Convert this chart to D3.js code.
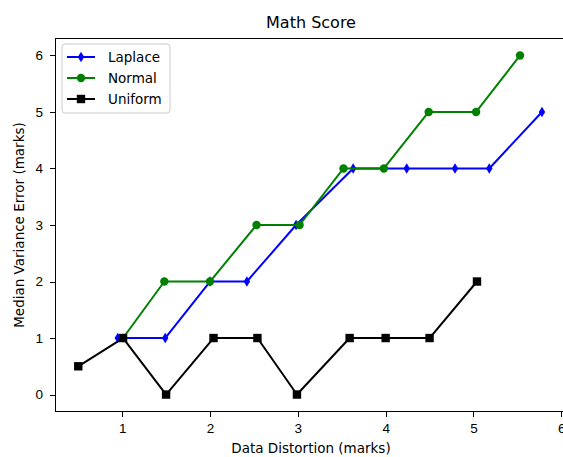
<!DOCTYPE html>
<html>
<meta charset="utf-8">
<style>
body { margin: 0; background: #fff; }
svg { font-family: "DejaVu Sans", sans-serif; }
.axis path, .axis line { stroke: #000; stroke-width: 1; shape-rendering: crispEdges; }
.axis text { font-size: 13.5px; fill: #000; }
.line { fill: none; stroke-width: 2; stroke-linejoin: round; }
</style>
<body>
<script src="https://d3js.org/d3.v7.min.js"></script>
<script>
// values
var laplaceX = [0.95, 1.49, 2.0, 2.42, 2.98, 3.63, 4.24, 4.79, 5.18, 5.78];
var laplaceY = [1, 1, 2, 2, 3, 4, 4, 4, 4, 5];
var normalX = [1.01, 1.48, 2.0, 2.53, 3.02, 3.52, 3.98, 4.49, 5.03, 5.53];
var normalY = [1, 2, 2, 3, 3, 4, 4, 5, 5, 6];
var uniformX = [0.5, 1.01, 1.5, 2.04, 2.54, 2.99, 3.59, 4.0, 4.5, 5.04];
var uniformY = [0.5, 1, 0, 1, 1, 0, 1, 1, 1, 2];
var xTicks = [1, 2, 3, 4, 5, 6];
var yTicks = [0, 1, 2, 3, 4, 5, 6];

var series = [
	{name: "Laplace", color: "blue", marker: "diamond", xs: laplaceX, ys: laplaceY},
	{name: "Normal", color: "green", marker: "circle", xs: normalX, ys: normalY},
	{name: "Uniform", color: "black", marker: "square", xs: uniformX, ys: uniformY}
];

var margin = {top: 38.5, left: 55},
	width = 512,
	height = 373,
	W = 563, H = 457;

var x = d3.scaleLinear().domain([0.235, 6.065]).range([0, width]);
var y = d3.scaleLinear().domain([-0.3, 6.3]).range([height, 0]);

var svg = d3.select("body").append("svg")
	.attr("width", W)
	.attr("height", H);

var g = svg.append("g")
	.attr("transform", "translate(" + margin.left + "," + margin.top + ")");

function drawMarker(sel, type, color) {
	if (type == "circle") {
		sel.append("circle").attr("r", 4.2).attr("fill", color);
	} else if (type == "square") {
		sel.append("rect").attr("x", -4.2).attr("y", -4.2)
			.attr("width", 8.4).attr("height", 8.4).attr("fill", color);
	} else {
		sel.append("path").attr("d", "M0,-5.2L3.2,0L0,5.2L-3.2,0Z").attr("fill", color);
	}
}

var line = d3.line()
	.x(function(d) { return x(d[0]); })
	.y(function(d) { return y(d[1]); });

series.forEach(function(s) {
	var pts = s.xs.map(function(v, i) { return [v, s.ys[i]]; });
	g.append("path")
		.attr("class", "line")
		.style("stroke", s.color)
		.attr("d", line(pts));
	pts.forEach(function(p) {
		var m = g.append("g").attr("transform", "translate(" + x(p[0]) + "," + y(p[1]) + ")");
		drawMarker(m, s.marker, s.color);
	});
});

// axes
g.append("g")
	.attr("class", "x axis")
	.attr("transform", "translate(0," + height + ")")
	.call(d3.axisBottom(x).tickValues(xTicks).tickSize(5).tickPadding(7).tickFormat(d3.format("d")));

g.append("g")
	.attr("class", "y axis")
	.call(d3.axisLeft(y).tickValues(yTicks).tickSize(5).tickPadding(7).tickFormat(d3.format("d")));

// frame
g.append("rect")
	.attr("width", width)
	.attr("height", height)
	.attr("fill", "none")
	.attr("stroke", "#000")
	.attr("shape-rendering", "crispEdges");

g.selectAll(".axis .domain").remove();

// title and labels
svg.append("text")
	.attr("x", margin.left + width / 2)
	.attr("y", 28)
	.attr("text-anchor", "middle")
	.attr("font-size", "16px")
	.text("Math Score");

svg.append("text")
	.attr("x", margin.left + width / 2)
	.attr("y", 453)
	.attr("text-anchor", "middle")
	.attr("font-size", "13.5px")
	.text("Data Distortion (marks)");

svg.append("text")
	.attr("transform", "translate(24," + (margin.top + height / 2) + ") rotate(-90)")
	.attr("text-anchor", "middle")
	.attr("font-size", "13.5px")
	.text("Median Variance Error (marks)");

// legend
var legend = svg.append("g").attr("transform", "translate(62,44)");
legend.append("rect")
	.attr("width", 108)
	.attr("height", 69)
	.attr("rx", 3)
	.attr("fill", "#fff")
	.attr("fill-opacity", 0.8)
	.attr("stroke", "#ccc");

series.forEach(function(s, i) {
	var row = legend.append("g").attr("transform", "translate(0," + (13 + i * 21) + ")");
	row.append("line")
		.attr("x1", 5).attr("x2", 33)
		.attr("stroke", s.color)
		.attr("stroke-width", 2);
	drawMarker(row.append("g").attr("transform", "translate(19,0)"), s.marker, s.color);
	row.append("text")
		.attr("x", 46)
		.attr("y", 5)
		.attr("font-size", "13.5px")
		.text(s.name);
});
</script>
</body>
</html>
